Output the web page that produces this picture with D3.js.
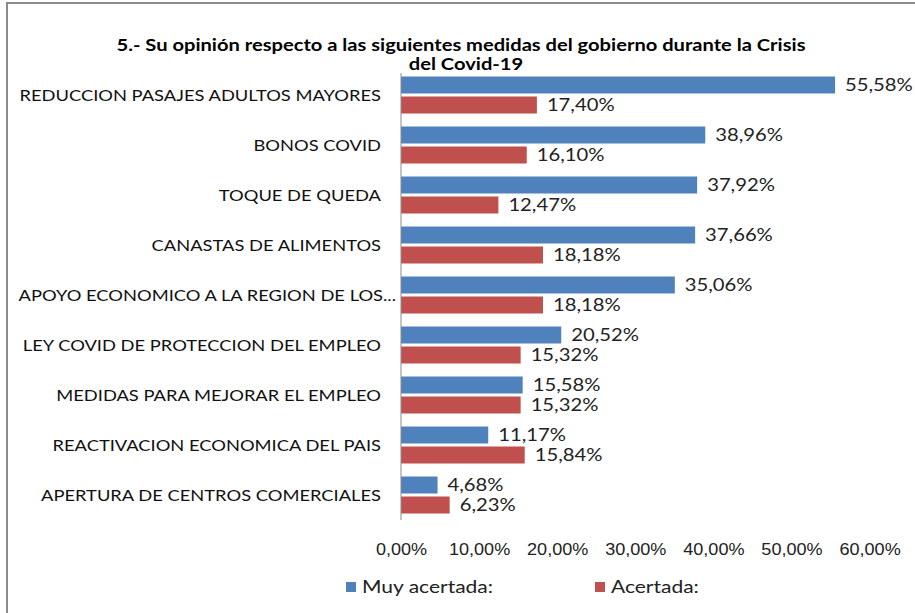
<!DOCTYPE html>
<html><head><meta charset="utf-8">
<script src="https://cdn.jsdelivr.net/npm/d3@7"></script>
<style>
html,body{margin:0;padding:0;background:#fff;}
svg{display:block;font-family:Lato,"Open Sans",sans-serif;}
</style></head>
<body><svg id="chart" width="915" height="613"></svg>
<script>
const categories = [
  "REDUCCION PASAJES ADULTOS MAYORES",
  "BONOS COVID",
  "TOQUE DE QUEDA",
  "CANASTAS DE ALIMENTOS",
  "APOYO ECONOMICO A LA REGION DE LOS...",
  "LEY COVID DE PROTECCION DEL EMPLEO",
  "MEDIDAS PARA MEJORAR EL EMPLEO",
  "REACTIVACION ECONOMICA DEL PAIS",
  "APERTURA DE CENTROS COMERCIALES"
];
const muyAcertada = [55.58, 38.96, 37.92, 37.66, 35.06, 20.52, 15.58, 11.17, 4.68];
const acertada    = [17.40, 16.10, 12.47, 18.18, 18.18, 15.32, 15.32, 15.84, 6.23];
const seriesNames = ["Muy acertada:", "Acertada:"];
const xTicks = [0, 10, 20, 30, 40, 50, 60];
const titleLines = ["5.- Su opinión respecto a las siguientes medidas del gobierno durante la Crisis", "del Covid-19"];

const colors = ["#4F81BD", "#C0504D"];
const loc = d3.formatLocale({decimal: ",", thousands: ".", grouping: [3], currency: ["", "€"]});
const fmt = v => loc.format(".2%")(v / 100);

const svg = d3.select("#chart");
const plot = {left: 401, right: 869.6, top: 70, bottom: 520};

// text helper: horizontally widened text (Calibri-like metrics of the source)
function label(parent, x, y, str, opt) {
  const g = parent.append("g").attr("transform", `translate(${x},${y}) scale(${opt.sx || 1},1)`);
  return g.append("text").attr("x", 0).attr("y", 0).attr("dy", "0.36em")
    .attr("text-anchor", opt.anchor || "start").attr("font-size", opt.size || 16)
    .attr("font-weight", opt.weight || "normal").attr("fill", opt.fill || "#222").text(str);
}

// outer border
svg.append("rect").attr("x", 7).attr("y", 3).attr("width", 940).attr("height", 640)
  .attr("fill", "none").attr("stroke", "#8a8a8a").attr("stroke-width", 2);

// title
label(svg, 461, 45, titleLines[0], {size: 16.5, weight: "bold", anchor: "middle", sx: 1.22, fill: "#000"});
label(svg, 466, 64, titleLines[1], {size: 16.5, weight: "bold", anchor: "middle", sx: 1.22, fill: "#000"});

const x = d3.scaleLinear().domain([0, 60]).range([plot.left, plot.right]);
const y = d3.scaleBand().domain(categories).range([plot.top, plot.bottom]);

const rows = categories.map((c, i) => ({c, v: [muyAcertada[i], acertada[i]]}));
const barH = 17, gap = 3;

const g = svg.append("g");
rows.forEach(r => {
  const cy = y(r.c) + y.bandwidth() / 2;
  r.v.forEach((v, s) => {
    const top = s === 0 ? cy - gap / 2 - barH : cy + gap / 2;
    g.append("rect").attr("x", x(0)).attr("y", top)
      .attr("width", x(v) - x(0)).attr("height", barH)
      .attr("fill", colors[s]);
    label(g, x(v) + 10, top + barH / 2, fmt(v), {size: 17, sx: 1.19});
  });
  label(g, r.c.endsWith("...") ? 396 : 381, cy, r.c, {size: 16, sx: 1.146, anchor: "end", fill: "#111"});
});

// category axis line
svg.append("line").attr("x1", x(0)).attr("x2", x(0)).attr("y1", plot.top + 3).attr("y2", plot.bottom)
  .attr("stroke", "#8a8a8a").attr("stroke-width", 1);

// value axis labels
const xa = svg.append("g").attr("transform", `translate(0,549)`)
  .call(d3.axisBottom(x).tickValues(xTicks).tickFormat(fmt).tickSize(0).tickPadding(0));
xa.select(".domain").remove();
xa.selectAll(".tick text").remove();
xa.selectAll(".tick").each(function(d) {
  label(d3.select(this), 0, 0, fmt(d), {size: 16, sx: 1.13, anchor: "middle"});
});

// legend
const legendX = [346, 595];
seriesNames.forEach((n, i) => {
  svg.append("rect").attr("x", legendX[i]).attr("y", 582).attr("width", 10).attr("height", 10).attr("fill", colors[i]);
  label(svg, legendX[i] + 16, 587, n, {size: 17.5, sx: 1.2});
});
</script></body></html>
